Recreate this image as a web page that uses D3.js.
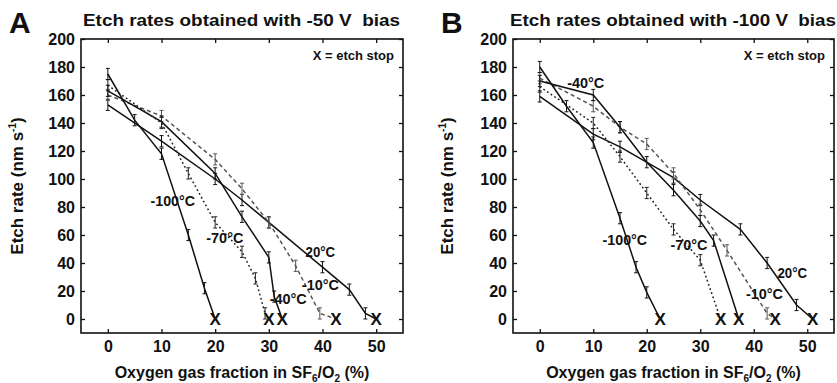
<!DOCTYPE html>
<html>
<head>
<meta charset="utf-8">
<script src="https://cdn.jsdelivr.net/npm/d3@7"></script>
<style>
body { margin: 0; background: #fff; }
text { font-family: "Liberation Sans", Arial, sans-serif; font-weight: bold; fill: #111; }
</style>
</head>
<body>
<div id="chart-area"></div>
<script>
// Datos (O2 %, etch rate nm/s)
var xTicks = [0, 10, 20, 30, 40, 50];
var yTicks = [0, 20, 40, 60, 80, 100, 120, 140, 160, 180, 200];
var temps = ["20°C", "-10°C", "-40°C", "-70°C", "-100°C"];

// -50 V bias
var a20C   = [[0,153],[10,127],[20,100],[25,85],[30,69],[40,37],[45,21],[48,4]];
var aM10C  = [[0,160],[10,145],[20,114],[25,93],[30,69],[35,38],[39.5,4]];
var aM40C  = [[0,163],[10,141],[20,104],[25,73],[30,44],[31,16]];
var aM70C  = [[0,167],[10,140],[15,104],[20,69],[25,48],[27.5,29],[29.3,4]];
var aM100C = [[0,175],[5,142],[10,118],[15,60],[18,22]];
var stopsA = [50, 42.5, 32.5, 30, 20];

// -100 V bias
var b20C   = [[0,159],[10,132],[15,123],[25,101],[30,85],[37.5,64],[42.5,40],[48,10]];
var bM10C  = [[0,172],[10,152],[15,137],[20,125],[25,104],[30,78],[35,49],[42.5,4]];
var bM40C  = [[0,170],[10,160],[15,137],[20,112],[25,92],[30,70],[32.5,56]];
var bM70C  = [[0,166],[10,140],[15,116],[20,90],[25,64],[30,42]];
var bM100C = [[0,180],[5,152],[10,126],[15,72],[18,37],[20,19]];
var stopsB = [51, 44, 37.2, 33.8, 22.5];

var errBar = 4;

var width = 837, height = 383;
var svg = d3.select("#chart-area").append("svg")
    .attr("width", width)
    .attr("height", height);

var styles = [
    {stroke: "#111", dash: null},
    {stroke: "#555", dash: "4,3"},
    {stroke: "#111", dash: null},
    {stroke: "#222", dash: "1.8,2.6"},
    {stroke: "#111", dash: null}
];

var panels = [
    {letter: "A", letterX: 9, left: 81, right: 403, title: "Etch rates obtained with -50 V  bias", titleX: 83, titleLen: 317,
     ylabX: 23, series: [a20C, aM10C, aM40C, aM70C, aM100C], stops: stopsA,
     labelPos: [[39.6,44],[39.6,21],[33.6,10.5],[21.8,54],[12.1,81]]},
    {letter: "B", letterX: 441, left: 513, right: 834, title: "Etch rates obtained with -100 V  bias", titleX: 510, titleLen: 326,
     ylabX: 453, series: [b20C, bM10C, bM40C, bM70C, bM100C], stops: stopsB,
     labelPos: [[47.2,29],[42,14],[8.6,165],[27.9,49],[15.9,53]]}
];

panels.forEach(function(p) {
    var x = d3.scaleLinear().domain([-5, 55]).range([p.left, p.right]);
    var y = d3.scaleLinear().domain([-10, 200]).range([333, 39]);
    var g = svg.append("g");

    // Letra y titulo
    g.append("text").attr("x", p.letterX).attr("y", 33)
        .attr("font-size", "30px").text(p.letter);
    g.append("text").attr("x", p.titleX).attr("y", 26)
        .attr("font-size", "17px").style("white-space", "pre")
        .attr("textLength", p.titleLen).attr("lengthAdjust", "spacingAndGlyphs")
        .text(p.title);

    // Marco
    g.append("rect")
        .attr("x", x(-5)).attr("y", y(200))
        .attr("width", x(55) - x(-5)).attr("height", y(-10) - y(200))
        .attr("fill", "none").attr("stroke", "#111").attr("stroke-width", 1.6);

    // Ejes (ticks hacia dentro en los cuatro lados)
    g.append("g").attr("transform", "translate(0," + y(-10) + ")")
        .call(d3.axisBottom(x).tickValues(xTicks).tickSizeInner(-4).tickSizeOuter(0).tickPadding(8))
        .call(function(a) { a.select(".domain").remove(); })
        .selectAll("text").attr("font-size", "16px").attr("font-family", null).attr("fill", null);
    g.append("g").attr("transform", "translate(0," + y(200) + ")")
        .call(d3.axisTop(x).tickValues(xTicks).tickSizeInner(-4).tickSizeOuter(0).tickFormat(""))
        .select(".domain").remove();
    g.append("g").attr("transform", "translate(" + x(-5) + ",0)")
        .call(d3.axisLeft(y).tickValues(yTicks).tickSizeInner(-4).tickSizeOuter(0).tickPadding(6))
        .call(function(a) { a.select(".domain").remove(); })
        .selectAll("text").attr("font-size", "16px").attr("font-family", null).attr("fill", null);
    g.append("g").attr("transform", "translate(" + x(55) + ",0)")
        .call(d3.axisRight(y).tickValues(yTicks).tickSizeInner(-4).tickSizeOuter(0).tickFormat(""))
        .select(".domain").remove();
    g.selectAll(".tick line").attr("stroke", "#111").attr("stroke-width", 1.3);

    // Etiquetas de ejes
    var yl = g.append("text")
        .attr("transform", "translate(" + p.ylabX + ",186) rotate(-90)")
        .attr("text-anchor", "middle").attr("font-size", "17px");
    yl.append("tspan").text("Etch rate (nm s");
    yl.append("tspan").attr("font-size", "10px").attr("dy", -7).text("-1");
    yl.append("tspan").attr("dy", 7).text(")");

    var xl = g.append("text")
        .attr("x", (x(-5) + x(55)) / 2).attr("y", 378)
        .attr("text-anchor", "middle").attr("font-size", "16px");
    xl.append("tspan").text("Oxygen gas fraction in SF");
    xl.append("tspan").attr("font-size", "10px").attr("dy", 4).text("6");
    xl.append("tspan").attr("dy", -4).text("/O");
    xl.append("tspan").attr("font-size", "10px").attr("dy", 4).text("2");
    xl.append("tspan").attr("dy", -4).text(" (%)");

    // Lineas
    var line = d3.line().x(function(d) { return x(d[0]); }).y(function(d) { return y(d[1]); });
    p.series.forEach(function(s, i) {
        var pts = s.concat([[p.stops[i], 0]]);
        g.append("path").datum(pts)
            .attr("d", line)
            .attr("fill", "none")
            .attr("stroke", styles[i].stroke)
            .attr("stroke-width", 1.5)
            .attr("stroke-dasharray", styles[i].dash);

        // Barras de error
        var eb = g.append("g").attr("stroke", styles[i].stroke).attr("stroke-width", 1);
        s.forEach(function(d) {
            eb.append("line").attr("x1", x(d[0])).attr("x2", x(d[0]))
                .attr("y1", y(d[1] - errBar)).attr("y2", y(d[1] + errBar));
            eb.append("line").attr("x1", x(d[0]) - 2).attr("x2", x(d[0]) + 2)
                .attr("y1", y(d[1] - errBar)).attr("y2", y(d[1] - errBar));
            eb.append("line").attr("x1", x(d[0]) - 2).attr("x2", x(d[0]) + 2)
                .attr("y1", y(d[1] + errBar)).attr("y2", y(d[1] + errBar));
        });

        // Etch stop
        g.append("text").attr("x", x(p.stops[i])).attr("y", y(0) + 6)
            .attr("text-anchor", "middle").attr("font-size", "17px").text("X");

        // Etiqueta de temperatura
        g.append("text").attr("x", x(p.labelPos[i][0])).attr("y", y(p.labelPos[i][1]))
            .attr("text-anchor", "middle").attr("font-size", "14px")
            .attr("textLength", temps[i].length * 7.4).attr("lengthAdjust", "spacingAndGlyphs")
            .text(temps[i]);
    });

    g.append("text").attr("x", x(55) - 9).attr("y", 60)
        .attr("text-anchor", "end").attr("font-size", "13px").text("X = etch stop");
});
</script>
</body>
</html>
